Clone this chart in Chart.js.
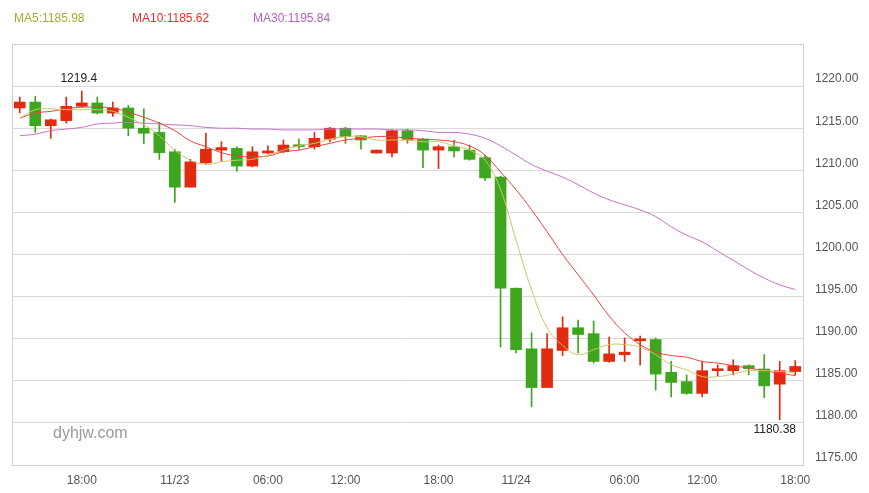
<!DOCTYPE html>
<html><head><meta charset="utf-8">
<script src="https://cdn.jsdelivr.net/npm/chart.js@4/dist/chart.umd.min.js"></script>
<style>
body{margin:0;background:#fff;font-family:"Liberation Sans",Arial,sans-serif}
#wrap{position:relative;width:869px;height:493px}
.lg{position:absolute;top:11px;font-size:12px}
#wm{position:absolute;left:53px;top:424px;font-size:16px;color:#999}
</style></head><body>
<div id="wrap">
<canvas id="c" width="869" height="493"></canvas>
<div class="lg" style="left:14px;color:#a8a838">MA5:1185.98</div>
<div class="lg" style="left:132px;color:#e8302a">MA10:1185.62</div>
<div class="lg" style="left:253px;color:#b460c0">MA30:1195.84</div>
<div id="wm">dyhjw.com</div>
</div>
<script>
const tickLabels = {4:"18:00",10:"11/23",16:"06:00",21:"12:00",27:"18:00",32:"11/24",39:"06:00",44:"12:00",50:"18:00"};
const openV  = [1217.4,1218.1,1215.3,1215.9,1217.6,1218.0,1216.8,1217.4,1215.0,1214.5,1212.2,1208.0,1210.9,1212.4,1212.6,1210.5,1212.05,1212.2,1213.0,1212.8,1213.7,1215.0,1214.1,1212.05,1212.05,1214.7,1213.7,1212.4,1212.8,1212.4,1211.5,1209.2,1196.0,1188.8,1184.2,1188.6,1191.3,1190.6,1187.3,1188.1,1189.75,1189.9,1186.0,1184.9,1183.5,1186.2,1186.2,1186.8,1186.4,1184.6,1186.1];
const closeV = [1218.1,1215.3,1216.0,1217.6,1218.0,1216.8,1217.4,1215.0,1214.4,1212.1,1208.0,1211.0,1212.5,1212.7,1210.5,1212.2,1212.3,1213.0,1212.8,1213.8,1215.0,1214.0,1213.6,1212.4,1214.7,1213.6,1212.4,1212.8,1212.3,1211.3,1209.1,1196.0,1188.7,1184.2,1188.8,1191.3,1190.5,1187.3,1188.2,1188.4,1189.9,1185.8,1184.8,1183.5,1186.2,1186.35,1186.8,1186.45,1184.4,1186.2,1186.7];
const highV  = [1218.7,1218.8,1216.1,1218.7,1219.4,1218.7,1218.1,1217.7,1217.3,1215.7,1212.5,1211.3,1214.4,1213.4,1212.8,1212.8,1212.9,1213.6,1213.7,1214.5,1215.1,1215.1,1214.1,1212.4,1214.8,1214.9,1213.8,1213.0,1213.6,1213.0,1211.8,1209.3,1196.0,1190.7,1190.6,1192.6,1192.2,1192.1,1190.2,1190.1,1190.3,1190.1,1187.3,1185.7,1187.3,1186.9,1187.5,1186.9,1188.1,1187.3,1187.4];
const lowV   = [1216.8,1214.5,1213.8,1215.6,1217.5,1216.7,1216.4,1214.1,1213.2,1211.3,1206.2,1208.0,1210.8,1211.1,1209.9,1210.4,1212.0,1212.1,1212.5,1212.5,1213.4,1213.2,1212.5,1212.05,1211.6,1213.2,1210.3,1210.2,1211.6,1211.2,1208.8,1189.0,1188.3,1181.9,1184.2,1188.0,1188.3,1187.1,1187.2,1187.3,1186.9,1183.9,1183.1,1183.4,1183.1,1185.6,1185.7,1185.7,1183.0,1180.38,1185.7];
const ma5  = [1216.2,1217.2,1217.3,1217.2,1217.2,1217.2,1217.0,1216.3,1215.4,1214.1,1212.4,1211.2,1210.7,1211.0,1211.2,1211.3,1211.8,1212.4,1212.9,1213.2,1213.7,1214.0,1214.0,1213.6,1213.6,1213.6,1213.4,1213.4,1212.9,1212.4,1211.2,1207.7,1201.7,1195.8,1191.3,1189.2,1188.1,1188.7,1189.3,1189.3,1189.0,1188.1,1186.9,1186.3,1185.5,1185.5,1185.8,1186.2,1186.2,1186.1,1185.98];
const ma10 = [1216.2,1216.8,1217.0,1217.3,1217.5,1217.5,1217.4,1216.9,1216.3,1215.6,1214.7,1213.5,1212.8,1212.1,1211.7,1211.6,1211.7,1212.2,1212.4,1212.8,1213.2,1213.6,1213.8,1214.0,1214.0,1213.8,1213.7,1213.6,1213.4,1212.9,1211.8,1209.8,1207.7,1205.3,1202.7,1200.0,1197.6,1195.2,1192.7,1190.7,1189.3,1188.4,1188.0,1187.8,1187.3,1187.1,1186.8,1186.5,1186.2,1185.9,1185.62];
const ma30 = [1214.1,1214.3,1214.7,1214.9,1215.1,1215.5,1215.6,1215.7,1215.6,1215.5,1215.4,1215.3,1215.1,1215.0,1215.0,1214.9,1214.9,1214.8,1214.8,1214.8,1214.9,1214.9,1214.9,1214.9,1214.8,1214.8,1214.7,1214.5,1214.5,1214.3,1213.8,1212.9,1211.8,1210.7,1209.9,1209.2,1208.3,1207.3,1206.5,1205.9,1205.3,1204.5,1203.3,1202.3,1201.5,1200.4,1199.3,1198.2,1197.2,1196.4,1195.84];

const RED='#e12a0e', GREEN='#3da51e';
const labels = openV.map((_,i)=>String(i));
const col = openV.map((o,i)=> closeV[i]>=o ? RED : GREEN);

const frame = {id:'frame', afterDraw(ch){
  const {ctx, chartArea:a, scales} = ch;
  ctx.save();
  ctx.strokeStyle='#c9d3de'; ctx.lineWidth=1;
  ctx.strokeRect(a.left+0.5,a.top+0.5,a.right-a.left,a.bottom-a.top);
  ctx.font='12px "Liberation Sans", Arial'; ctx.fillStyle='#222'; ctx.textAlign='center';
  const hi = highV.indexOf(Math.max(...highV)), lo = lowV.indexOf(Math.min(...lowV));
  ctx.fillText(String(highV[hi]), scales.x.getPixelForValue(hi)-3, scales.y.getPixelForValue(highV[hi])-9);
  ctx.fillText(String(lowV[lo]), scales.x.getPixelForValue(lo)-5, scales.y.getPixelForValue(lowV[lo])+13);
  ctx.restore();
}};

const line = (d,c)=>({type:'line',data:d,borderColor:c,borderWidth:1,pointRadius:0,tension:0.4,order:0});
new Chart(document.getElementById('c'),{
  data:{labels,datasets:[
    line(ma5,'#cdc46a'), line(ma10,'#ec4040'), line(ma30,'#c671c9'),
    {type:'bar',data:lowV.map((l,i)=>[l,highV[i]]),backgroundColor:col,barThickness:1,grouped:false,order:2},
    {type:'bar',data:openV.map((o,i)=>[o,closeV[i]]),backgroundColor:col,barThickness:11,minBarLength:2,grouped:false,order:1}
  ]},
  options:{responsive:false,animation:false,
    layout:{padding:{top:44,left:12,right:0,bottom:0}},
    plugins:{legend:{display:false},tooltip:{enabled:false}},
    scales:{
      x:{offset:true,grid:{display:false},border:{display:false},
        afterFit(s){s.height=28;},
        ticks:{autoSkip:false,maxRotation:0,color:'#555',font:{size:12,family:'"Liberation Sans", Arial'},padding:0,
          callback:(v,i)=>tickLabels[i]||''}},
      y:{position:'right',min:1175,max:1225,border:{display:false},
        afterFit(s){s.width=66;},
        grid:{color:'#d9d9d9',drawTicks:false},
        ticks:{stepSize:5,labelOffset:-7,padding:12,color:'#555',font:{size:12,family:'"Liberation Sans", Arial'},
          callback:v=> v>=1225 ? '' : v.toFixed(2)}}
    }},
  plugins:[frame]
});
</script>
</body></html>
